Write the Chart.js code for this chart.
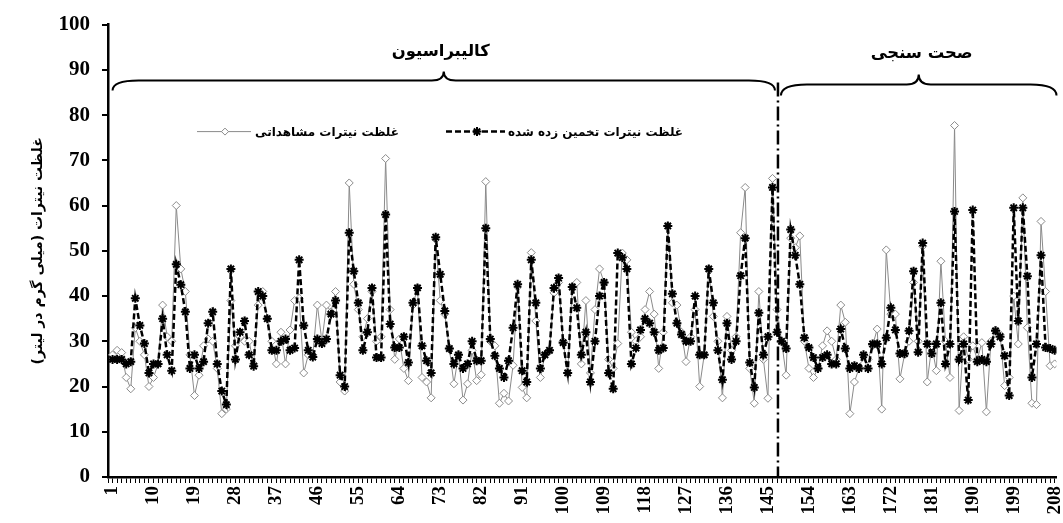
<!DOCTYPE html>
<html lang="fa">
<head>
<meta charset="UTF-8">
<title>غلظت نیترات مشاهداتی و تخمین زده شده</title>
<script src="https://cdn.jsdelivr.net/npm/chart.js@4.4.1/dist/chart.umd.min.js"></script>
<style>
  html, body { margin: 0; padding: 0; background: #fff; }
  #wrap { width: 1063px; height: 523px; position: relative; }
</style>
</head>
<body>
<div id="wrap"><canvas id="nitrate" dir="rtl"></canvas></div>
<script>
// شماره نمونه ها 1..208
const samples = Array.from({ length: 208 }, (_, i) => i + 1);

// غلظت نیترات مشاهداتی (mg/L)
const observed = [
  27, 28, 27.5, 22, 19.5, 33, 30, 27, 20, 22,
  25, 38, 31, 30, 60, 46, 41, 27, 18, 22.5,
  29, 30.5, 30, 24, 14, 15, 39, 29, 31, 30,
  30, 25, 38, 41, 35, 30, 25, 32, 25, 32.5,
  39, 39.5, 23, 27, 27, 38, 30, 38, 36.5, 41,
  21, 19, 65, 42.6, 37, 31, 35, 41, 30, 31,
  70.4, 37, 26, 30.5, 24, 21.3, 38, 41.8, 22, 21,
  17.5, 52.5, 39, 36, 28.4, 20.6, 27, 17, 20.6, 28,
  21.3, 22.6, 65.3, 30, 29, 16.3, 18.5, 16.8, 24.7, 42,
  19.8, 17.5, 49.6, 34.5, 22, 27, 28, 40.7, 43, 30,
  23, 42, 43, 25, 39, 23, 37, 46, 43, 26,
  24, 29.5, 49.5, 48, 32, 30, 31, 37, 41, 36,
  24, 32, 55.5, 38.5, 38, 32, 25.5, 31, 37, 20,
  27, 46, 35.5, 30, 17.5, 35.5, 28, 31, 54, 64,
  24, 16.3, 41, 26, 17.4, 66, 37, 30, 22.5, 52.8,
  50.7, 53.3, 30, 24, 22, 24, 29, 32.3, 30, 26,
  38, 34.2, 14, 21, 24, 25, 26, 29, 32.7, 15,
  50.2, 36, 36, 21.7, 27, 30, 43, 30, 51, 21,
  29, 23.5, 47.7, 30, 22, 77.7, 14.7, 31, 26, 29,
  26, 29.7, 14.4, 30, 32.5, 31.5, 20.2, 22, 40, 29.4,
  61.7, 33, 16.3, 16, 56.5, 41, 24.6, 25
];

// غلظت نیترات تخمین زده شده (mg/L)
const estimated = [
  26, 26, 26, 25, 25.5, 39.5, 33.5, 29.5, 23, 25,
  25, 35, 27, 23.5, 47, 42.5, 36.5, 24, 27, 24,
  25.5, 34, 36.5, 25, 19, 16, 46, 26, 32, 34.5,
  27, 24.5, 41, 40, 35, 28, 28, 30, 30.5, 28,
  28.5, 48, 33.5, 28, 26.5, 30.5, 29.5, 30.5, 36, 39,
  22.5, 20, 54, 45.5, 38.5, 28, 32, 41.8, 26.4, 26.4,
  58, 33.8, 28.6, 28.6, 31, 25.3, 38.5, 41.8, 29, 25.7,
  23, 53, 44.8, 36.7, 28.4, 25, 27, 24, 25, 30,
  25.7, 25.7, 55, 30.5, 26.8, 24, 22, 25.7, 33, 42.6,
  23.5, 21, 48, 38.5, 24, 27, 28, 41.8, 44, 29.7,
  23, 42, 37.4, 27, 32, 21, 30, 40, 43, 23,
  19.5, 49.5, 48.5, 46, 25, 28.5, 32.5, 35, 34, 32,
  28, 28.5, 55.5, 40.5, 34, 31.5, 30, 30, 40, 27,
  27, 46, 38.5, 28, 21.5, 34, 26, 30, 44.5, 52.8,
  25.3, 19.8, 36.3, 27, 31, 64, 32, 30, 28.4, 54.7,
  49, 42.6, 30.8, 28.6, 26.4, 24, 26.4, 27, 25, 25,
  32.7, 28.4, 24, 24.6, 24, 27, 24, 29.4, 29.4, 25,
  30.8, 37.4, 32.5, 27.3, 27.3, 32.3, 45.5, 27.6, 51.7, 29.4,
  27.3, 29.4, 38.5, 25, 29.4, 58.7, 26, 29.4, 17, 59,
  25.5, 26, 25.5, 29.4, 32.3, 31, 26.8, 18, 59.5, 34.5,
  59.5, 44.4, 22, 29.4, 49, 28.6, 28.4, 28
];

const tickLabels = [1, 10, 19, 28, 37, 46, 55, 64, 73, 82, 91, 100, 109, 118,
  127, 136, 145, 154, 163, 172, 181, 190, 199, 208];

const seriesNames = ['غلظت نیترات مشاهداتی', 'غلظت نیترات تخمین زده شده'];
const sectionTitles = ['کالیبراسیون', 'صحت سنجی'];
const yTitle = 'غلظت نیترات (میلی گرم در لیتر)';
const splitAt = 147.2;   // مرز کالیبراسیون / صحت سنجی

const obsColor = '#8a8a8a';

function fitFont(ctx, text, width, family) {
  ctx.font = 'bold 20px ' + family;
  const s = 20 * width / ctx.measureText(text).width;
  return 'bold ' + s.toFixed(1) + 'px ' + family;
}

function brace(ctx, x1, x2, yFlat, yEnd, yTip) {
  const mid = (x1 + x2) / 2;
  const r = 26;
  ctx.beginPath();
  ctx.moveTo(x1, yEnd);
  ctx.quadraticCurveTo(x1, yFlat, x1 + r, yFlat);
  ctx.lineTo(mid - 12, yFlat);
  ctx.quadraticCurveTo(mid, yFlat, mid, yTip);
  ctx.quadraticCurveTo(mid, yFlat, mid + 12, yFlat);
  ctx.lineTo(x2 - r, yFlat);
  ctx.quadraticCurveTo(x2, yFlat, x2, yEnd);
  ctx.stroke();
  return mid;
}

function diamond(ctx, x, y, r) {
  ctx.beginPath();
  ctx.moveTo(x, y - r); ctx.lineTo(x + r, y); ctx.lineTo(x, y + r); ctx.lineTo(x - r, y);
  ctx.closePath();
  ctx.fillStyle = '#fff'; ctx.fill();
  ctx.stroke();
}

function star(ctx, x, y, r) {
  const d = r * Math.SQRT1_2;
  ctx.beginPath();
  ctx.moveTo(x - r, y); ctx.lineTo(x + r, y);
  ctx.moveTo(x, y - r); ctx.lineTo(x, y + r);
  ctx.moveTo(x - d, y - d); ctx.lineTo(x + d, y + d);
  ctx.moveTo(x - d, y + d); ctx.lineTo(x + d, y - d);
  ctx.stroke();
}

const decor = {
  id: 'decor',
  afterDraw(chart) {
    const { ctx, chartArea: a, scales: { x } } = chart;
    const xs = x.getPixelForValue(splitAt);
    ctx.save();

    // خط جداکننده
    ctx.strokeStyle = '#000';
    ctx.lineWidth = 2.5;
    ctx.setLineDash([14, 4, 2, 4]);
    ctx.beginPath();
    ctx.moveTo(xs, a.top + 58);
    ctx.lineTo(xs, a.bottom);
    ctx.stroke();
    ctx.setLineDash([]);

    // آکولادها و عنوان ها
    ctx.lineWidth = 2;
    const m1 = brace(ctx, x.getPixelForValue(1), xs - 3, a.top + 56, a.top + 66, a.top + 47);
    const m2 = brace(ctx, xs + 3, a.right, a.top + 60, a.top + 71, a.top + 50);
    ctx.fillStyle = '#000';
    ctx.textAlign = 'center';
    ctx.textBaseline = 'middle';
    ctx.font = fitFont(ctx, sectionTitles[0], 98, '"DejaVu Sans"');
    ctx.fillText(sectionTitles[0], m1 - 3, a.top + 27);
    ctx.fillText(sectionTitles[1], m2 + 3, a.top + 29);

    // راهنما
    const ly = a.top + 107;
    ctx.strokeStyle = obsColor;
    ctx.lineWidth = 1;
    ctx.beginPath(); ctx.moveTo(197, ly); ctx.lineTo(251, ly); ctx.stroke();
    diamond(ctx, 225, ly, 3.5);
    ctx.strokeStyle = '#000';
    ctx.lineWidth = 2.5;
    ctx.setLineDash([6, 3]);
    ctx.beginPath(); ctx.moveTo(446, ly); ctx.lineTo(505, ly); ctx.stroke();
    ctx.setLineDash([]);
    ctx.lineWidth = 2;
    star(ctx, 477, ly, 4.5);

    ctx.fillStyle = '#000';
    ctx.textAlign = 'left';
    ctx.font = 'bold 12px "DejaVu Sans"';
    ctx.fillText(seriesNames[0], 255, ly + 1);
    ctx.fillText(seriesNames[1], 508, ly + 1);
    ctx.restore();
  }
};

new Chart(document.getElementById('nitrate'), {
  type: 'line',
  data: {
    datasets: [
      {
        label: seriesNames[0],
        data: observed.map((v, i) => ({ x: samples[i], y: v })),
        borderColor: obsColor,
        borderWidth: 1,
        pointStyle: 'rectRot',
        pointRadius: 4,
        pointBackgroundColor: '#fff',
        pointBorderColor: obsColor,
        pointBorderWidth: 1,
        order: 2
      },
      {
        label: seriesNames[1],
        data: estimated.map((v, i) => ({ x: samples[i], y: v })),
        borderColor: '#000',
        borderWidth: 2.5,
        borderDash: [6, 3],
        pointStyle: 'star',
        pointRadius: 4.5,
        pointBorderColor: '#000',
        pointBorderWidth: 2,
        order: 1
      }
    ]
  },
  options: {
    responsive: true,
    maintainAspectRatio: false,
    animation: false,
    layout: { padding: { top: 21, right: 3, left: 0, bottom: 0 } },
    plugins: { legend: { display: false }, tooltip: { enabled: false } },
    scales: {
      x: {
        type: 'linear',
        min: 0,
        max: 208.4,
        afterFit: s => { s.height = 46; s.paddingLeft = 0; s.paddingRight = 0; },
        border: { color: '#000', width: 2.5 },
        grid: { drawOnChartArea: false, color: '#000', lineWidth: 1, tickLength: 6 },
        ticks: {
          stepSize: 1,
          includeBounds: false,
          autoSkip: false,
          minRotation: 90,
          maxRotation: 90,
          padding: 3,
          color: '#000',
          font: { family: '"Liberation Serif"', size: 19, weight: 'bold' },
          callback: v => tickLabels.includes(v) ? String(v) : ''
        }
      },
      y: {
        min: 0,
        max: 100,
        afterFit: s => { s.width = 108; },
        border: { color: '#000', width: 2.5 },
        grid: { drawOnChartArea: false, color: '#000', lineWidth: 2, tickLength: 6 },
        ticks: {
          stepSize: 10,
          padding: 12,
          color: '#000',
          font: { family: '"Liberation Serif"', size: 21, weight: 'bold' }
        },
        title: {
          display: true,
          text: yTitle,
          color: '#000',
          padding: { top: 30, bottom: 0 },
          font: { family: '"DejaVu Sans"', size: 14, weight: 'bold' }
        }
      }
    }
  },
  plugins: [decor]
});
</script>
</body>
</html>
